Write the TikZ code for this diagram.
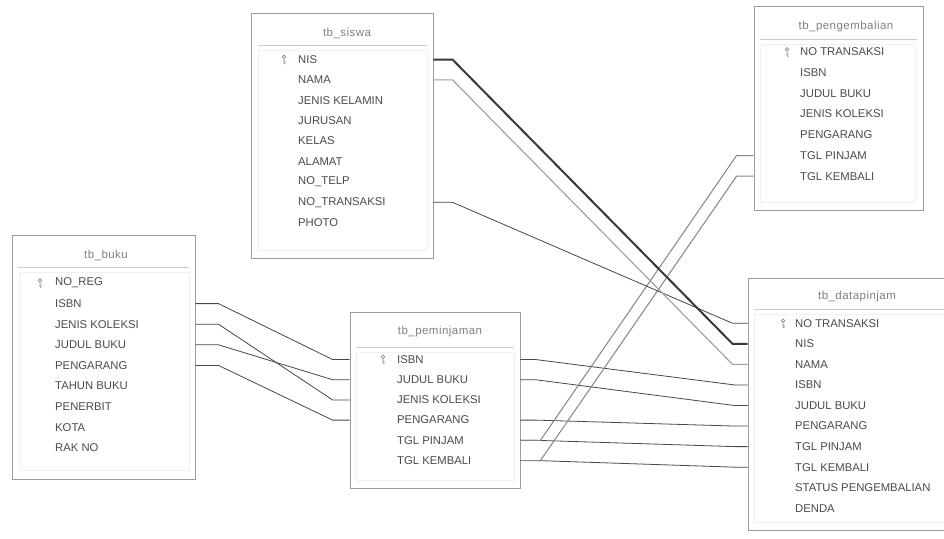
\documentclass[tikz,border=0pt]{standalone}
\usepackage{fontspec}
\setmainfont{Liberation Sans}
\newfontfamily\ttlfont[LetterSpace=4]{Liberation Sans}
\usetikzlibrary{calc}
\definecolor{txt}{HTML}{4a4a4a}
\definecolor{ttlc}{HTML}{808080}
\definecolor{boxc}{HTML}{9c9c9c}
\definecolor{sepc}{HTML}{cccccc}
\definecolor{innc}{HTML}{f0f0f0}
\definecolor{keyc}{HTML}{8a8a8a}
\begin{document}
\begin{tikzpicture}[x=1pt,y=-1pt,
  tbox/.style={draw=boxc, line width=0.9pt, inner sep=0, fill=white},
  row/.style={anchor=west, inner sep=0, text=txt, font=\fontsize{11.3}{13}\selectfont},
  ttl/.style={inner sep=0, text=ttlc, font=\ttlfont\fontsize{11.5}{13}\selectfont},
  sep/.style={draw=sepc, line width=0.6pt},
  inner/.style={draw=innc, line width=0.6pt},
  keyic/.pic={\draw[keyc, line width=0.7pt] (0,-2.6) circle (1.7) (0,-0.9) -- (0,4.2) (0,2.2) -- (1.6,2.2) (0,4.2) -- (1.6,4.2);},
  connA/.style={draw=black!72, line width=0.8pt},
  connB/.style={draw=black!48, line width=1pt},
  connC/.style={draw=black!38, line width=1.1pt},
  connD/.style={draw=black!78, line width=2pt},
]
\useasboundingbox (0,0) rectangle (944,538);
\fill[white] (0,0) rectangle (944,538);

% ---------- boxes ----------
\node[tbox, minimum width=182pt, minimum height=245pt] (siswa) at (342,135.5) {};
\node[tbox, minimum width=169pt, minimum height=204pt] (peng) at (838.5,108) {};
\node[tbox, minimum width=183pt, minimum height=244pt] (buku) at (103.5,357) {};
\node[tbox, minimum width=170pt, minimum height=176pt] (pem) at (435,400) {};
\node[tbox, minimum width=214pt, minimum height=252pt] (dp) at (855,404) {};

% inner faint panels
\draw[inner] (258,50) rectangle (427,250);
\draw[inner] (760,44) rectangle (915,202);
\draw[inner] (19,272) rectangle (189,470);
\draw[inner] (356,352) rectangle (514,480);
\draw[inner] (754,314) rectangle (950,522);

% ---------- titles ----------
\node[ttl] (t-siswa) at (347,33) {tb\_siswa};
\node[ttl] (t-peng) at (846,27) {tb\_pengembalian};
\node[ttl] (t-buku) at (106,255) {tb\_buku};
\node[ttl] (t-pem) at (440,332) {tb\_peminjaman};
\node[ttl] (t-dp) at (857,297) {tb\_datapinjam};

\draw[sep] (258,45) -- (427,45);
\draw[sep] (760,39) -- (917,39);
\draw[sep] (18,267) -- (189,267);
\draw[sep] (356,347) -- (514,347);
\draw[sep] (754,309) -- (944,309);

% ---------- rows ----------
\foreach \nm/\tx [count=\i from 0] in {nis/NIS,nama/NAMA,jk/JENIS KELAMIN,jur/JURUSAN,kls/KELAS,alm/ALAMAT,telp/NO\_TELP,trx/NO\_TRANSAKSI,foto/PHOTO}
  \node[row] (s-\nm) at (298,{59.5+20.4*\i}) {\tx};
\pic at (284,59.5) {keyic};

\foreach \nm/\tx [count=\i from 0] in {trx/NO TRANSAKSI,isbn/ISBN,jdl/JUDUL BUKU,jns/JENIS KOLEKSI,png/PENGARANG,tglp/TGL PINJAM,tglk/TGL KEMBALI}
  \node[row] (g-\nm) at (800,{52+20.7*\i}) {\tx};
\pic at (787,52) {keyic};

\foreach \nm/\tx [count=\i from 0] in {reg/NO\_REG,isbn/ISBN,jns/JENIS KOLEKSI,jdl/JUDUL BUKU,png/PENGARANG,thn/TAHUN BUKU,pnb/PENERBIT,kota/KOTA,rak/RAK NO}
  \node[row] (b-\nm) at (55,{283+20.6*\i}) {\tx};
\pic at (40,283) {keyic};

\foreach \nm/\tx [count=\i from 0] in {isbn/ISBN,jdl/JUDUL BUKU,jns/JENIS KOLEKSI,png/PENGARANG,tglp/TGL PINJAM,tglk/TGL KEMBALI}
  \node[row] (p-\nm) at (397,{359.5+20.2*\i}) {\tx};
\pic at (383,359.5) {keyic};

\foreach \nm/\tx [count=\i from 0] in {trx/NO TRANSAKSI,nis/NIS,nama/NAMA,isbn/ISBN,jdl/JUDUL BUKU,png/PENGARANG,tglp/TGL PINJAM,tglk/TGL KEMBALI,stat/STATUS PENGEMBALIAN,denda/DENDA}
  \node[row] (d-\nm) at (795,{323.3+20.55*\i}) {\tx};
\pic at (783,323.3) {keyic};

% ---------- connectors ----------
% tb_buku -> tb_peminjaman
\foreach \a/\b in {isbn/isbn,jns/jns,jdl/jdl,png/png}
  \draw[connA] (buku.east |- b-\a) -- ++(23,0) -- ($(pem.west |- p-\b)+(-17,0)$) -- (pem.west |- p-\b);

% tb_peminjaman -> tb_datapinjam
\foreach \a in {isbn,jdl,png,tglp,tglk}
  \draw[connA] (pem.east |- p-\a) -- ++(15,0) -- ($(dp.west |- d-\a)+(-13,0)$) -- (dp.west |- d-\a);

% tb_pengembalian -> tb_peminjaman
\foreach \a in {tglp,tglk}
  \draw[connB] (peng.west |- g-\a) -- ++(-17,0) -- ($(pem.east |- p-\a)+(20,0)$) -- (pem.east |- p-\a);

% tb_siswa -> tb_datapinjam
\draw[connA] (siswa.east |- s-trx) -- ++(19,0) -- ($(dp.west |- d-trx)+(-15,0)$) -- (dp.west |- d-trx);
\draw[connC] (siswa.east |- s-nama) -- ++(19,0) -- ($(dp.west |- d-nama)+(-15,0)$) -- (dp.west |- d-nama);
\draw[connD] (siswa.east |- s-nis) -- ++(19,0) -- ($(dp.west |- d-nis)+(-15,0)$) -- (dp.west |- d-nis);
\end{tikzpicture}
\end{document}
